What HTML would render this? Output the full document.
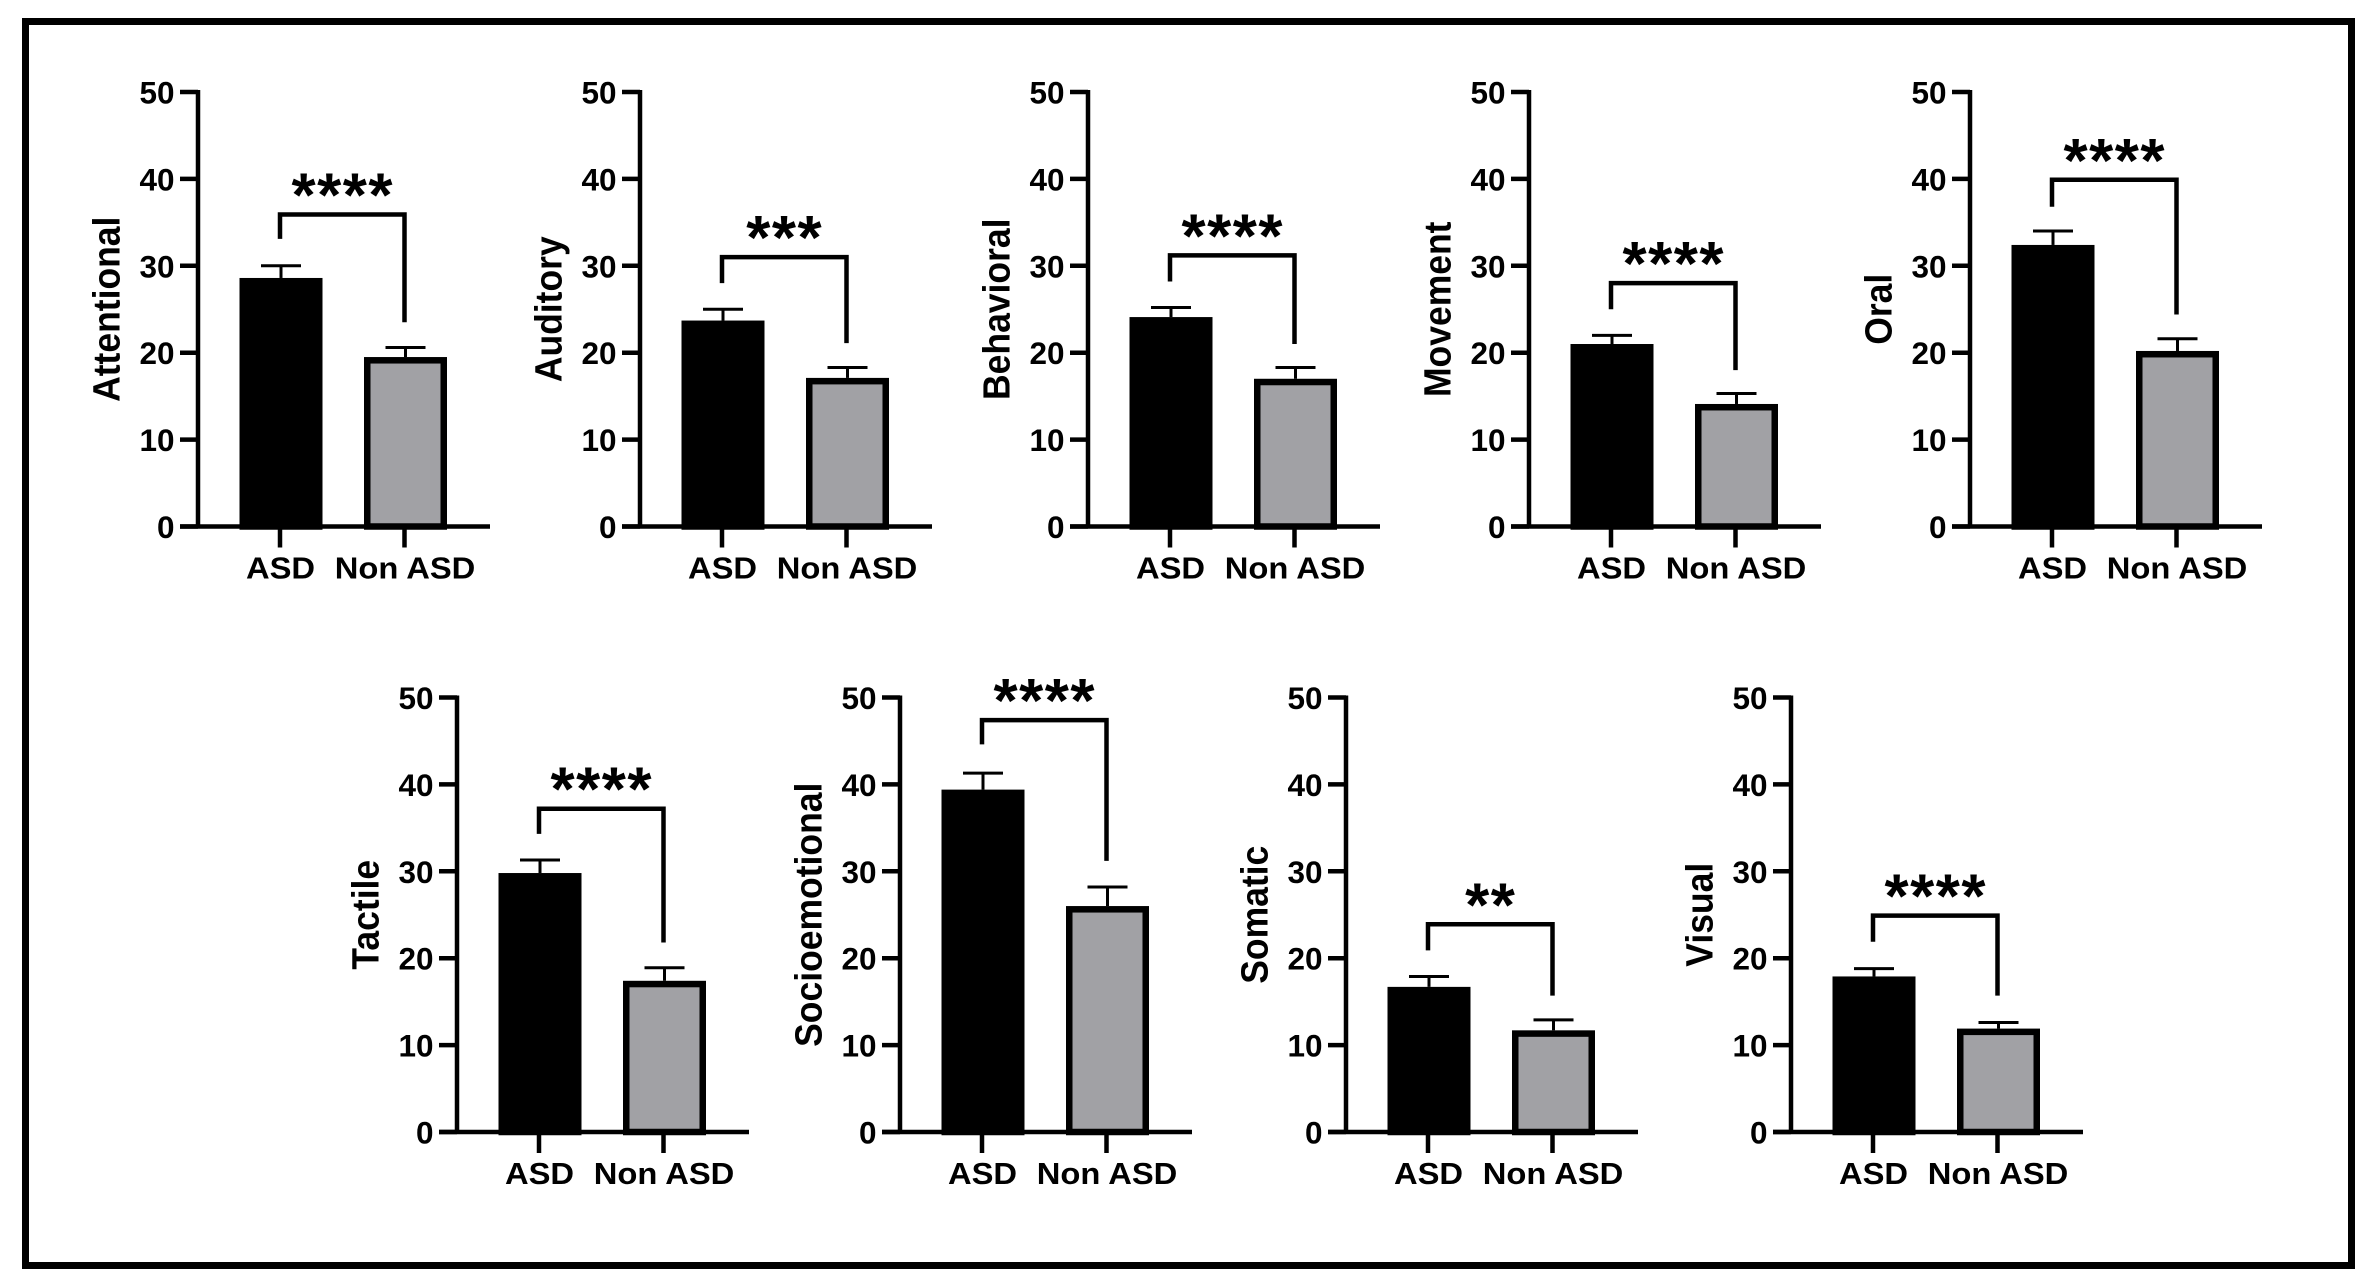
<!DOCTYPE html>
<html lang="en">
<head>
<meta charset="utf-8">
<title>ASD vs Non ASD sensory scores</title>
<style>
  html, body { margin: 0; padding: 0; background: #fff; }
  body { width: 2372px; height: 1283px; overflow: hidden; }
  svg { display: block; font-family: "Liberation Sans", Arial, sans-serif; font-weight: 700; }
</style>
</head>
<body>
<svg id="figure" width="2372" height="1283" viewBox="0 0 2372 1283" xmlns="http://www.w3.org/2000/svg">
  <rect x="25.5" y="21.5" width="2326" height="1244" fill="#fff" stroke="#000" stroke-width="7"></rect>
</svg>
<script>
// ---- Chart data ----
const categories = ["Attentional", "Auditory", "Behavioral", "Movement", "Oral", "Tactile", "Socioemotional", "Somatic", "Visual"];
const groupLabels = ["ASD", "Non ASD"];
const tickValues = [0, 10, 20, 30, 40, 50];
const asdMeans = [28.6, 23.7, 24.1, 21.0, 32.4, 29.8, 39.4, 16.7, 17.9];
const asdUpper = [30.0, 25.0, 25.2, 22.0, 34.0, 31.3, 41.3, 17.9, 18.8];
const nonAsdMeans = [19.5, 17.1, 17.0, 14.1, 20.2, 17.4, 26.0, 11.7, 11.9];
const nonAsdUpper = [20.6, 18.3, 18.3, 15.3, 21.6, 18.9, 28.2, 12.9, 12.6];
const bracketLevels = [35.9, 31.0, 31.2, 28.0, 39.9, 37.2, 47.4, 23.9, 24.9];
const bracketLeftEnds = [33.1, 28.0, 28.2, 25.0, 36.8, 34.3, 44.6, 20.9, 21.9];
const bracketRightEnds = [23.5, 21.1, 21.0, 18.0, 24.4, 21.8, 31.2, 15.7, 15.7];
const significance = ["****", "***", "****", "****", "****", "****", "****", "**", "****"];

// ---- Layout (not data) ----
const panelAxisLeft = [198, 640, 1088, 1529, 1970, 457, 900, 1346, 1791];
const panelBaseline = [526.5, 526.5, 526.5, 526.5, 526.5, 1132, 1132, 1132, 1132];
const PLOT_HEIGHT = 434.5;
const AXIS_MAX = 50;
const BAR_WIDTH = 83;
const BAR_CENTERS = [83, 207.5];
const CAP_HALF = 20;

const SVG_NS = "http://www.w3.org/2000/svg";
const figure = document.getElementById("figure");

function make(tag, parent, geometry) {
  const node = document.createElementNS(SVG_NS, tag);
  for (const key in geometry) node.setAttribute(key, geometry[key]);
  parent.appendChild(node);
  return node;
}

function slug(text) {
  return text.toLowerCase().replace(/\s+/g, "-");
}

categories.forEach(function (category, i) {
  const axisX = panelAxisLeft[i];
  const y0 = panelBaseline[i];
  const yScale = function (v) { return y0 - (v / AXIS_MAX) * PLOT_HEIGHT; };
  const xScale = function (g) { return axisX + BAR_CENTERS[g]; };
  const name = slug(category);

  const panel = make("g", figure, {});
  
  

  // bars
  const means = [asdMeans[i], nonAsdMeans[i]];
  const uppers = [asdUpper[i], nonAsdUpper[i]];
  means.forEach(function (mean, g) {
    const top = yScale(mean);
    const cx = xScale(g);

    const stem = make("line", panel, { x1: cx, x2: cx, y1: top, y2: yScale(uppers[g]), stroke: "#000", "stroke-width": 3 });
    
    

    const cap = make("line", panel, { x1: cx - CAP_HALF, x2: cx + CAP_HALF, y1: yScale(uppers[g]), y2: yScale(uppers[g]), stroke: "#000", "stroke-width": 3 });
    
    

    const bar = make("rect", panel, {
      x: cx - BAR_WIDTH / 2 + 3.25,
      y: top + 3.25,
      width: BAR_WIDTH - 6.5,
      height: Math.max(0, y0 - top - 3.25),
      fill: g === 0 ? "#000" : "#a1a1a5",
      stroke: "#000",
      "stroke-width": 6.5
    });
    
    

    const tick = make("line", panel, { x1: cx - 1, x2: cx - 1, y1: y0, y2: y0 + 21, stroke: "#000", "stroke-width": 4.5 });
    
    

    const label = make("text", panel, {
      transform: "translate(" + (cx - 0.5) + " " + (y0 + 52) + ") scale(1.07 1)",
      "text-anchor": "middle",
      "font-size": 30.6,
      fill: "#000"
    });
    label.textContent = groupLabels[g];
    
    
  });

  // axes
  const yAxis = make("line", panel, { x1: axisX, x2: axisX, y1: yScale(AXIS_MAX) - 2, y2: y0 + 2, stroke: "#000", "stroke-width": 4.5 });
  
  

  const xAxis = make("line", panel, { x1: axisX - 18, x2: axisX + 292, y1: y0, y2: y0, stroke: "#000", "stroke-width": 4.5 });
  
  

  tickValues.forEach(function (v) {
    const yTick = make("line", panel, { x1: axisX - 18, x2: axisX, y1: yScale(v), y2: yScale(v), stroke: "#000", "stroke-width": 4.5 });
    
    

    const yLabel = make("text", panel, { x: axisX - 23.5, y: yScale(v) + 11.5, "text-anchor": "end", "font-size": 31.5, fill: "#000" });
    yLabel.textContent = String(v);
    
    
  });

  // y axis title
  const title = make("text", panel, {
    transform: "translate(" + (axisX - 78.5) + " " + yScale(AXIS_MAX / 2) + ") rotate(-90) scale(1 1.07)",
    "text-anchor": "middle",
    "font-size": 35.5,
    fill: "#000"
  });
  title.textContent = category;
  
  

  // significance bracket
  const bracketY = yScale(bracketLevels[i]);
  const bracket = make("polyline", panel, {
    points: [
      xScale(0) - 1, yScale(bracketLeftEnds[i]),
      xScale(0) - 1, bracketY,
      xScale(1) - 1, bracketY,
      xScale(1) - 1, yScale(bracketRightEnds[i])
    ].join(" "),
    fill: "none",
    stroke: "#000",
    "stroke-width": 4.5
  });
  
  

  const stars = make("text", panel, {
    x: (xScale(0) + xScale(1)) / 2 - 0.5,
    y: bracketY + 2,
    "text-anchor": "middle",
    "font-size": 62,
    "letter-spacing": 1.5,
    fill: "#000"
  });
  stars.textContent = significance[i];
  
  
});
</script>
</body>
</html>
